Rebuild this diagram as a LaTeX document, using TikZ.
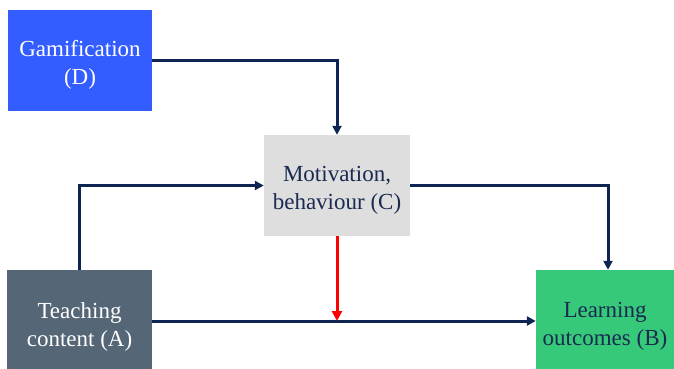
\documentclass[tikz,border=0pt]{standalone}
\usepackage{fontspec}
\setmainfont{Liberation Serif}
\usetikzlibrary{arrows.meta}
\definecolor{cD}{HTML}{335DFF}
\definecolor{cC}{HTML}{DEDEDE}
\definecolor{cA}{HTML}{556677}
\definecolor{cB}{HTML}{36C979}
\definecolor{navy}{HTML}{0E2452}
\definecolor{txtnavy}{HTML}{1A2A50}
\tikzset{
  box/.style={rectangle, inner sep=0pt},
  txt/.style={inner sep=0pt, align=center, font=\fontsize{23}{28}\selectfont},
  conn/.style={draw=navy, line width=3pt, -{Triangle[length=9pt,width=9pt]}},
  redconn/.style={draw=red, line width=3pt, -{Triangle[length=10pt,width=10pt]}}
}
\begin{document}
\begin{tikzpicture}[x=1pt,y=-1pt]
\useasboundingbox (0,0) rectangle (674,368);
\node[box, fill=cD, minimum width=144pt, minimum height=101pt] (D) at (80,60.5) {};
\node[box, fill=cC, minimum width=146pt, minimum height=101pt] (C) at (337,185.5) {};
\node[box, fill=cA, minimum width=145pt, minimum height=102pt] (A) at (79.5,321) {};
\node[box, fill=cB, minimum width=138pt, minimum height=102pt] (B) at (605,321) {};
\node[txt, text=white] (Dt) at ([yshift=-4pt]D.center) {Gamification\\(D)};
\node[txt, text=txtnavy] (Ct) at ([yshift=-4.5pt]C.center) {Motivation,\\behaviour (C)};
\node[txt, text=white] (At) at ([yshift=-5.5pt]A.center) {Teaching\\content (A)};
\node[txt, text=txtnavy] (Bt) at ([yshift=-5.5pt]B.center) {Learning\\outcomes (B)};
\draw[conn] (D.east) -| (C.north);
\draw[conn] (A.north) |- (C.west);
\draw[conn] (C.east) -| ([xshift=3pt]B.north);
\draw[conn] (A.east) -- (B.west);
\draw[redconn] (C.south) -- (C.south |- A.east);
\end{tikzpicture}
\end{document}
